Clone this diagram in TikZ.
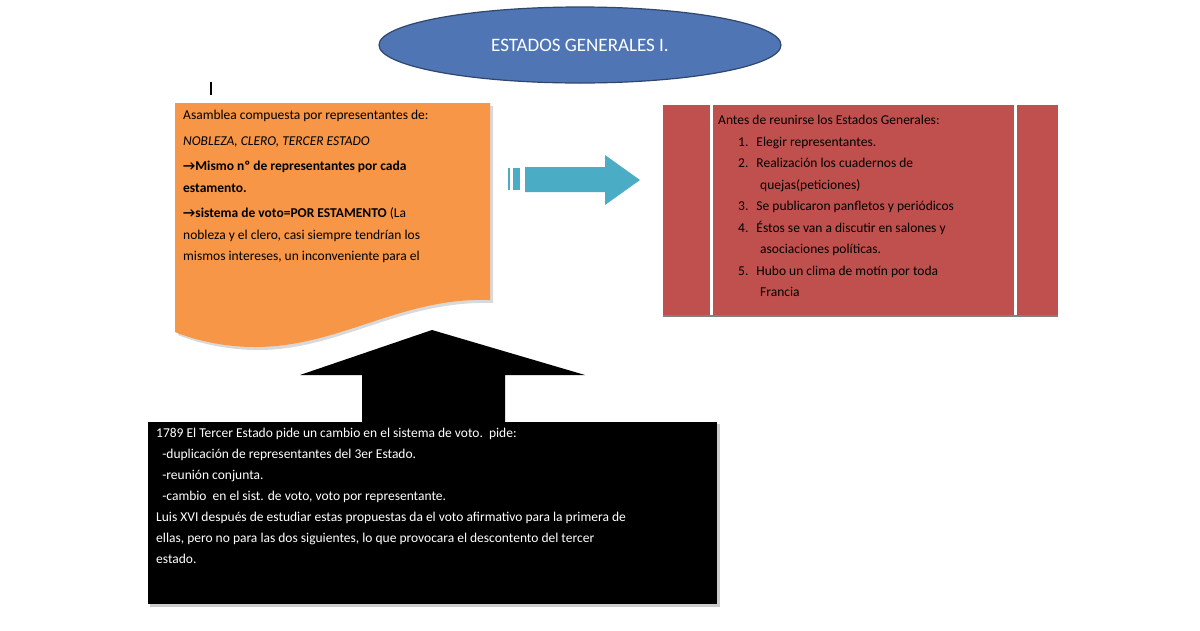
\documentclass[tikz,border=0pt]{standalone}
\usepackage{fontspec}
\setmainfont{Carlito}
\usetikzlibrary{shapes.geometric}
\definecolor{orng}{HTML}{F79646}
\definecolor{redb}{HTML}{C0504D}
\definecolor{blu}{HTML}{4F75B5}
\definecolor{cyanar}{HTML}{4BACC6}
\begin{document}
\begin{tikzpicture}[x=1pt,y=-1pt,
  txt/.style={anchor=north west,inner sep=0pt,align=left,font=\fontsize{13.5}{21.5}\selectfont}]
\useasboundingbox (0,0) rectangle (1200,630);
\fill[white] (0,0) rectangle (1200,630);
% title
\node[ellipse,draw=blu!60!black,line width=1.2pt,fill=blu,minimum width=402pt,minimum height=76pt,
  font=\fontsize{19}{22}\selectfont,text=white] (title) at (580,45) {ESTADOS GENERALES I.};
\draw[line width=1.2pt] (211,82) -- (211,95);
% orange document
\fill[gray!30] (178,106) -- (493,106) -- (493,303) .. controls (400,300) and (340,350) .. (258,350) .. controls (220,350) and (190,340) .. (178,335) -- cycle;
\fill[orng] (175,103) -- (490,103) -- (490,300) .. controls (400,297) and (340,347) .. (255,347) .. controls (217,347) and (187,337) .. (175,332) -- cycle;
\node[txt] (doc) at (183,110) {Asamblea compuesta por representantes de:\\[4pt]
\textit{NOBLEZA, CLERO, TERCER ESTADO}\\[4pt]
\textbf{→Mismo nº de representantes por cada}\\
\textbf{estamento.}\\[4pt]
\textbf{→sistema de voto=POR ESTAMENTO} (La\\
nobleza y el clero, casi siempre tendrían los\\
mismos intereses, un inconveniente para el};
% blue arrow
\fill[cyanar] (508,168) rectangle (510,190);
\fill[cyanar] (513,168) rectangle (520,190);
\fill[cyanar] (525,167) -- (605,167) -- (605,155) -- (640,180) -- (605,205) -- (605,192) -- (525,192) -- cycle;
\coordinate (arrtip) at (640,180);
% red box
\fill[redb] (663,105) rectangle (1058,315);
\draw[white,line width=3pt] (711,105) -- (711,315) (1015,105) -- (1015,315);
\draw[gray,line width=1.5pt] (663,316) -- (1058,316);
\node[txt,font=\fontsize{13.5}{21.5}\selectfont] (red) at (718,115) {Antes de reunirse los Estados Generales:\\
\hspace*{20pt}1.\hspace{8pt}Elegir representantes.\\
\hspace*{20pt}2.\hspace{8pt}Realización los cuadernos de\\
\hspace*{42pt}quejas(peticiones)\\
\hspace*{20pt}3.\hspace{8pt}Se publicaron panfletos y periódicos\\
\hspace*{20pt}4.\hspace{8pt}Éstos se van a discutir en salones y\\
\hspace*{42pt}asociaciones políticas.\\
\hspace*{20pt}5.\hspace{8pt}Hubo un clima de motín por toda\\
\hspace*{42pt}Francia};
% black up arrow
\fill[black] (362,425) -- (362,375) -- (300,375) -- (432,330) -- (585,375) -- (505,375) -- (505,425) -- cycle;
% black box
\fill[gray!40] (150,424) rectangle (720,607);
\fill[black] (148,422) rectangle (717,604);
\node[txt,text=white,font=\fontsize{13.5}{21}\selectfont] (blk) at (156,428) {1789 El Tercer Estado pide un cambio en el sistema de voto.\ \ pide:\\
\ \ -duplicación de representantes del 3er Estado.\\
\ \ -reunión conjunta.\\
\ \ -cambio\ \ en el sist. de voto,\ voto por representante.\\
Luis XVI después de estudiar estas propuestas\ da el voto afirmativo para la primera de\\
ellas, pero no para las dos siguientes, lo que provocara el descontento del tercer\\
estado.};
\end{tikzpicture}
\end{document}
